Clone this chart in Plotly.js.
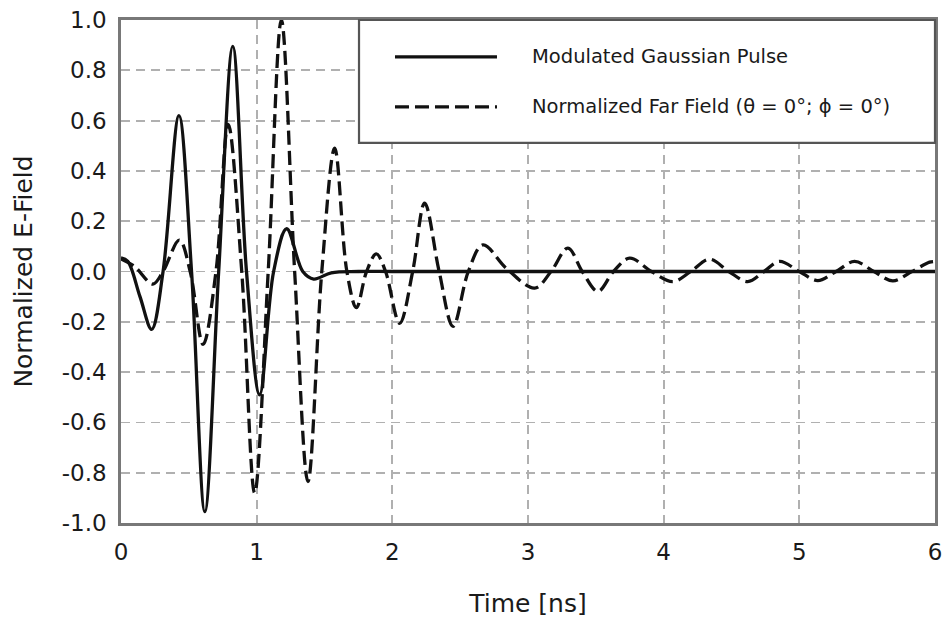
<!DOCTYPE html>
<html>
<head>
<meta charset="utf-8">
<script src="https://cdn.plot.ly/plotly-3.0.1.min.js"></script>
<style>html,body{margin:0;padding:0;background:#fff}#chart{width:946px;height:626px}</style>
</head>
<body>
<div id="chart"></div>
<script>
// ---- data ----
const seriesNames = ['Modulated Gaussian Pulse', 'Normalized Far Field (\u03B8 = 0\u00B0; \u03D5 = 0\u00B0)'];

const pulseTime  = [0, 0.05, 0.14, 0.226, 0.31, 0.427, 0.52, 0.618, 0.72, 0.824, 0.925, 1.022, 1.125, 1.221, 1.34, 1.42, 1.55, 1.75, 2.0, 3.0, 4.0, 5.0, 6.0];
const pulseValue = [0.054, 0.04, -0.10, -0.23, 0.0, 0.62, 0.0, -0.955, 0.0, 0.895, 0.0, -0.49, 0.0, 0.17, 0.0, -0.03, -0.005, 0.0, 0.0, 0.0, 0.0, 0.0, 0.0];

const farTime  = [0, 0.1, 0.235, 0.31, 0.43, 0.51, 0.605, 0.70, 0.79, 0.89, 0.985, 1.085, 1.182, 1.28, 1.378, 1.48, 1.575, 1.665, 1.735, 1.81, 1.882, 1.95, 2.054, 2.15, 2.238, 2.345, 2.447, 2.56, 2.668, 2.84, 3.049, 3.17, 3.294, 3.40, 3.515, 3.63, 3.749, 3.91, 4.068, 4.2, 4.338, 4.48, 4.62, 4.74, 4.854, 5.0, 5.136, 5.27, 5.407, 5.55, 5.689, 5.83, 5.96, 6.0];
const farValue = [0.05, 0.02, -0.05, 0.0, 0.125, 0.0, -0.29, 0.0, 0.585, 0.0, -0.88, 0.0, 1.0, 0.0, -0.835, 0.0, 0.49, 0.0, -0.144, 0.0, 0.07, 0.0, -0.206, 0.0, 0.272, 0.0, -0.218, 0.0, 0.106, 0.013, -0.066, 0.0, 0.093, 0.0, -0.079, 0.0, 0.053, 0.0, -0.04, 0.0, 0.049, 0.0, -0.04, 0.0, 0.04, 0.0, -0.036, 0.0, 0.04, 0.0, -0.037, 0.0, 0.037, 0.04];

const xTickVals = [0, 1, 2, 3, 4, 5, 6];
const xTickText = ['0', '1', '2', '3', '4', '5', '6'];
const yTickVals = [-1.0, -0.8, -0.6, -0.4, -0.2, 0.0, 0.2, 0.4, 0.6, 0.8, 1.0];
const yTickText = ['-1.0', '-0.8', '-0.6', '-0.4', '-0.2', '0.0', '0.2', '0.4', '0.6', '0.8', '1.0'];

// ---- styles ----
const FONT = 'DejaVu Sans, Liberation Sans, Arial, sans-serif';
const dashStyle = '14px,6px';

const traces = [
  {x: pulseTime, y: pulseValue, name: seriesNames[0], type: 'scatter', mode: 'lines',
   line: {color: '#111', width: 3.3, shape: 'spline', smoothing: 1}},
  {x: farTime, y: farValue, name: seriesNames[1], type: 'scatter', mode: 'lines',
   line: {color: '#111', width: 3.3, dash: dashStyle, shape: 'spline', smoothing: 1}}
];

// legend geometry (paper coordinates)
const legX0 = 0.2924, legX1 = 1.0, legY0 = 0.7557, legY1 = 1.0;
const sampX0 = 0.3366, sampX1 = 0.4619, textX = 0.5025;
const rowY = [0.9265, 0.8272];

const axisCommon = {
  showgrid: true, gridcolor: '#b0b0b0', gridwidth: 1.8, griddash: '9px,6px',
  zeroline: false, showline: true, mirror: true, linecolor: '#787878', linewidth: 2.8,
  ticks: 'outside', tickcolor: 'rgba(0,0,0,0)', fixedrange: true,
  tickfont: {family: FONT, size: 23, color: '#1a1a1a'}
};

const layout = {
  width: 946, height: 626,
  margin: {l: 121, r: 11, t: 20, b: 103, pad: 0},
  paper_bgcolor: '#fff', plot_bgcolor: '#fff',
  showlegend: false,
  font: {family: FONT, color: '#1a1a1a'},
  xaxis: Object.assign({}, axisCommon, {
    range: [0, 6], tickmode: 'array', tickvals: xTickVals, ticktext: xTickText, ticklen: 7,
    title: {text: 'Time [ns]', font: {family: FONT, size: 25, color: '#1a1a1a'}, standoff: 30}
  }),
  yaxis: Object.assign({}, axisCommon, {
    range: [-1, 1], tickmode: 'array', tickvals: yTickVals, ticktext: yTickText, ticklen: 7,
    title: {text: 'Normalized E-Field', font: {family: FONT, size: 25, color: '#1a1a1a'}, standoff: 22}
  }),
  shapes: [
    {type: 'rect', xref: 'paper', yref: 'paper', x0: legX0, x1: legX1, y0: legY0, y1: legY1,
     line: {color: '#555555', width: 2.2}, fillcolor: '#ffffff', layer: 'above'},
    {type: 'line', xref: 'paper', yref: 'paper', x0: sampX0, x1: sampX1, y0: rowY[0], y1: rowY[0],
     line: {color: '#111', width: 3.3}, layer: 'above'},
    {type: 'line', xref: 'paper', yref: 'paper', x0: sampX0, x1: sampX1, y0: rowY[1], y1: rowY[1],
     line: {color: '#111', width: 3.3, dash: dashStyle}, layer: 'above'}
  ],
  annotations: seriesNames.map((n, i) => ({
    text: n, xref: 'paper', yref: 'paper', x: textX, y: rowY[i], xanchor: 'left', yanchor: 'middle',
    showarrow: false, font: {family: FONT, size: 19.5, color: '#1a1a1a'}
  }))
};

Plotly.newPlot('chart', traces, layout, {staticPlot: true, displayModeBar: false});
</script>
</body>
</html>
